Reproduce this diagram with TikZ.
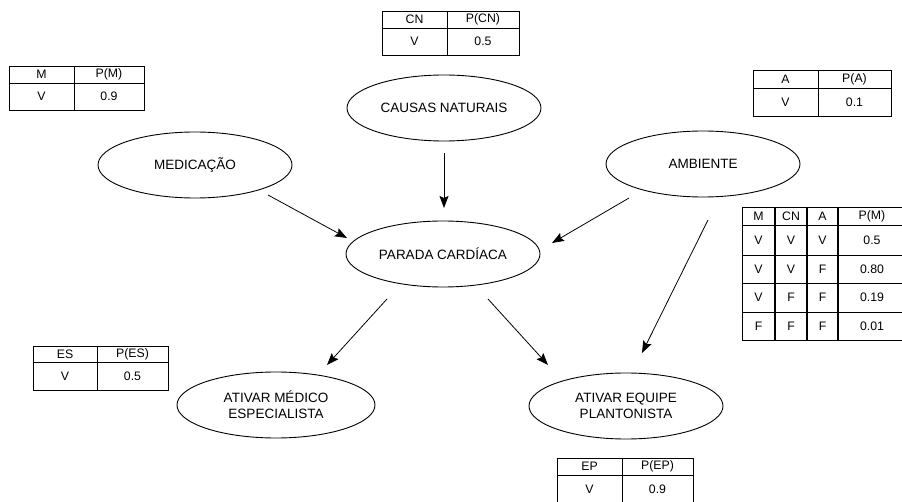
\documentclass[tikz,border=0pt]{standalone}
\usepackage{fontspec}
\setmainfont{Liberation Sans}
\usetikzlibrary{arrows.meta,calc,shapes.geometric}
\begin{document}
\begin{tikzpicture}[x=1pt,y=-1pt,
  ev/.style={draw,line width=0.9pt,ellipse,minimum width=194pt,minimum height=66pt,inner sep=0pt,
     font=\fontsize{13.5}{16}\selectfont,align=center},
  tb/.style={draw,line width=0.9pt},
  tt/.style={font=\fontsize{12.3}{14}\selectfont,inner sep=0pt,anchor=center},
  conn/.style={line width=0.8pt,-{Stealth[length=12pt,width=9pt,inset=2pt]}}]
\useasboundingbox (0,0) rectangle (902,502);
\fill[white] (0,0) rectangle (902,502);

% ellipses
\node[ev] (cn)  at (444,108) {CAUSAS NATURAIS};
\node[ev] (med) at (195,165) {MEDICAÇÃO};
\node[ev] (amb) at (703,164) {AMBIENTE};
\node[ev] (pc)  at (443,254) {PARADA CARDÍACA};
\node[ev,minimum width=198pt] (ams) at (276,405) {ATIVAR MÉDICO\\ESPECIALISTA};
\node[ev] (aep) at (626,406) {ATIVAR EQUIPE\\PLANTONISTA};

% connectors
\draw[conn] ($(med)+(73,30)$) -- ($(pc)+(-96,-16)$);
\draw[conn] ($(cn)+(0,45)$) -- ($(pc)+(1,-46)$);
\draw[conn] ($(amb)+(-74,34)$) -- ($(pc)+(109,-11)$);
\draw[conn] ($(amb)+(5,56)$) -- ($(aep)+(16,-53)$);
\draw[conn] ($(pc)+(-56,45)$) -- ($(ams)+(51,-40)$);
\draw[conn] ($(pc)+(45,45)$) -- ($(aep)+(-78,-41)$);

% table CN
\draw[tb] (382,11) rectangle (519,55);
\draw[tb] (382,28) -- (519,28);
\draw[tb] (447,11) -- (447,55);
\node[tt] (cnh1) at (414.5,19.5) {CN};
\node[tt] (cnh2) at (483,19.5) {P(CN)};
\node[tt] (cnv1) at (414.5,41.5) {V};
\node[tt] (cnv2) at (483,41.5) {0.5};

% table M
\draw[tb] (9,66) rectangle (144,110);
\draw[tb] (9,83) -- (144,83);
\draw[tb] (74,66) -- (74,110);
\node[tt] (mh1) at (41.5,74.5) {M};
\node[tt] (mh2) at (109,74.5) {P(M)};
\node[tt] (mv1) at (41.5,96.5) {V};
\node[tt] (mv2) at (109,96.5) {0.9};

% table A
\draw[tb] (753,70) rectangle (891,116);
\draw[tb] (753,88) -- (891,88);
\draw[tb] (818,70) -- (818,116);
\node[tt] (ah1) at (785.5,79) {A};
\node[tt] (ah2) at (854.5,79) {P(A)};
\node[tt] (av1) at (785.5,102) {V};
\node[tt] (av2) at (854.5,102) {0.1};

% table ES
\draw[tb] (33,346) rectangle (168,390);
\draw[tb] (33,362) -- (168,362);
\draw[tb] (97,346) -- (97,390);
\node[tt] (esh1) at (65,354) {ES};
\node[tt] (esh2) at (132.5,354) {P(ES)};
\node[tt] (esv1) at (65,376) {V};
\node[tt] (esv2) at (132.5,376) {0.5};

% table EP
\draw[tb] (557,458) rectangle (693,506);
\draw[tb] (557,475) -- (693,475);
\draw[tb] (622,458) -- (622,506);
\node[tt] (eph1) at (589.5,466.5) {EP};
\node[tt] (eph2) at (657.5,466.5) {P(EP)};
\node[tt] (epv1) at (589.5,489) {V};
\node[tt] (epv2) at (657.5,489) {0.9};

% big table
\draw[tb] (742,207) rectangle (905,340);
\foreach \yy in {225,255,283,312} \draw[tb] (742,\yy) -- (905,\yy);
\foreach \xx in {775,807,838} \draw[line width=1.6pt] (\xx,207) -- (\xx,340);
\node[tt] (bh1) at (758.5,216) {M};
\node[tt] (bh2) at (791,216) {CN};
\node[tt] (bh3) at (822.5,216) {A};
\node[tt] (bh4) at (872,216) {P(M)};
\node[tt] (b11) at (758.5,240) {V};
\node[tt] (b12) at (791,240) {V};
\node[tt] (b13) at (822.5,240) {V};
\node[tt] (b14) at (872,240) {0.5};
\node[tt] (b21) at (758.5,269) {V};
\node[tt] (b22) at (791,269) {V};
\node[tt] (b23) at (822.5,269) {F};
\node[tt] (b24) at (872,269) {0.80};
\node[tt] (b31) at (758.5,297.5) {V};
\node[tt] (b32) at (791,297.5) {F};
\node[tt] (b33) at (822.5,297.5) {F};
\node[tt] (b34) at (872,297.5) {0.19};
\node[tt] (b41) at (758.5,326) {F};
\node[tt] (b42) at (791,326) {F};
\node[tt] (b43) at (822.5,326) {F};
\node[tt] (b44) at (872,326) {0.01};
\end{tikzpicture}
\end{document}
